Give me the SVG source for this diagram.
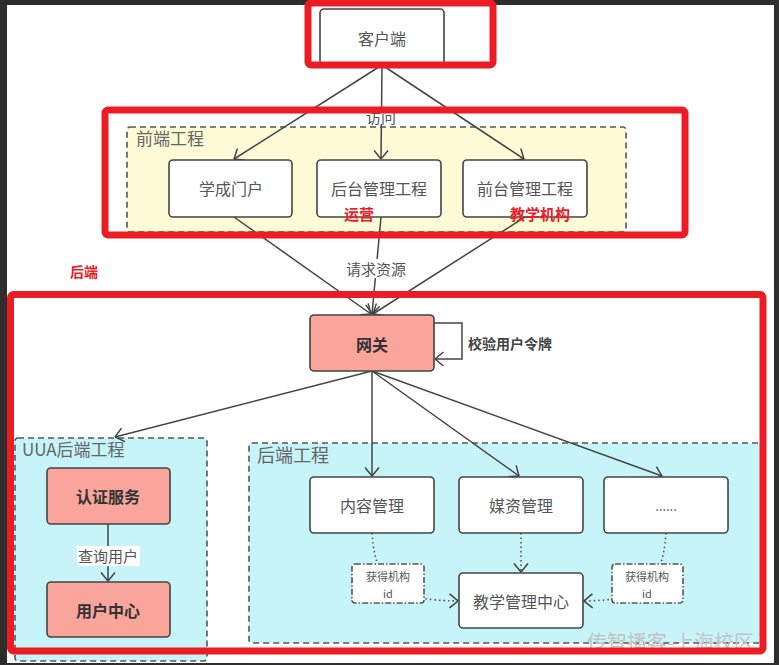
<svg xmlns="http://www.w3.org/2000/svg" width="779" height="665" viewBox="0 0 779 665">
<defs>
<style>
text{font-family:"Noto Sans CJK SC","Noto Sans",sans-serif;}
.node{fill:#ffffff;stroke:#444;stroke-width:1.6;}
.hot{fill:#f9a59b;stroke:#444;stroke-width:1.6;}
.lbl{font-size:16px;fill:#555;text-anchor:middle;dominant-baseline:central;}
.blbl{font-size:16px;fill:#333;font-weight:bold;text-anchor:middle;dominant-baseline:central;}
.title{font-size:17px;fill:#666;}
.edge{fill:none;stroke:#444;stroke-width:1.5;marker-end:url(#arr);}
.dot{fill:none;stroke:#555;stroke-width:1.6;stroke-dasharray:1.5 3;marker-end:url(#arr);}
.cont{stroke:#555;stroke-width:1.6;stroke-dasharray:6 4;}
.red{fill:none;stroke:#ec1c24;stroke-width:7;}
.redt{font-size:15px;fill:#ec1c24;font-weight:bold;text-anchor:middle;dominant-baseline:central;}
.elbl{font-size:15px;fill:#555;text-anchor:middle;dominant-baseline:central;}
.small{font-size:11px;fill:#555;text-anchor:middle;dominant-baseline:central;}
</style>
<marker id="arr" viewBox="0 0 10 16" refX="9.5" refY="8" markerWidth="10" markerHeight="16" markerUnits="userSpaceOnUse" orient="auto">
<path d="M1,1 L9.5,8 L1,15" fill="none" stroke="#444" stroke-width="1.5"/>
</marker>
</defs>
<rect x="0" y="0" width="779" height="665" fill="#2d2d2d"/>
<rect x="7" y="5" width="767" height="658" fill="#ffffff"/>

<g id="containers">
<g id="frontend-group">
<rect class="cont" x="127" y="127" width="499" height="105" rx="3" fill="#fdfad6"/>
<text class="title" x="136" y="145">前端工程</text>
</g>
<g id="uua-group">
<rect class="cont" x="15" y="438" width="192" height="223" rx="3" fill="#c6f4f9"/>
<text class="title" x="22" y="456">UUA后端工程</text>
</g>
<g id="backend-group">
<rect class="cont" x="249" y="443" width="513" height="200" rx="3" fill="#c6f4f9"/>
<text class="title" x="257" y="462" style="font-size:18px">后端工程</text>
</g>
</g>

<g id="connectors">
<path class="edge" d="M382,65 L234,159"/>
<path class="edge" d="M382,65 L381,159"/>
<path class="edge" d="M382,65 L524,159"/>
<path class="edge" d="M234,217 L371,314"/>
<path class="edge" d="M381,217 L372,314"/>
<path class="edge" d="M525,217 L373,314"/>
<path class="edge" d="M434,323 L462,323 L462,359 L435,359"/>
<path class="edge" d="M372,371 L115,437"/>
<path class="edge" d="M372,371 L372,476"/>
<path class="edge" d="M372,371 L519,476"/>
<path class="edge" d="M372,371 L662,476"/>
<path class="edge" d="M108,524 L108,581"/>
<path class="dot" d="M372,533 C376,590 400,600 458,601"/>
<path class="dot" d="M521,533 L521,572"/>
<path class="dot" d="M666,533 C662,590 640,600 584,601"/>
</g>

<g id="edge-labels">
<rect x="362" y="107" width="38" height="17" fill="#ffffff"/>
<text class="elbl" x="381" y="116">访问</text>
<rect x="342" y="259" width="68" height="19" fill="#ffffff"/>
<text class="elbl" x="376" y="268">请求资源</text>
<text x="468" y="343" style="font-size:14px;fill:#444;font-weight:bold;dominant-baseline:central">校验用户令牌</text>
<rect x="77" y="546" width="63" height="20" fill="#ffffff"/>
<text class="elbl" x="108" y="555">查询用户</text>
</g>

<g id="client"><rect class="node" x="320" y="9" width="124" height="56" rx="4"/><text class="lbl" x="382" y="38">客户端</text></g>
<g id="portal"><rect class="node" x="169" y="160" width="123" height="57" rx="4"/><text class="lbl" x="231" y="188">学成门户</text></g>
<g id="admin"><rect class="node" x="317" y="160" width="124" height="57" rx="4"/><text class="lbl" x="379" y="188">后台管理工程</text></g>
<g id="front-admin"><rect class="node" x="463" y="160" width="124" height="57" rx="4"/><text class="lbl" x="525" y="188">前台管理工程</text></g>
<g id="gateway"><rect class="hot" x="310" y="315" width="124" height="56" rx="4"/><text class="blbl" x="372" y="344">网关</text></g>
<g id="auth"><rect class="hot" x="47" y="468" width="123" height="56" rx="4"/><text class="blbl" x="108" y="496">认证服务</text></g>
<g id="usercenter"><rect class="hot" x="47" y="582" width="123" height="55" rx="4"/><text class="blbl" x="108" y="610">用户中心</text></g>
<g id="content"><rect class="node" x="310" y="477" width="124" height="56" rx="4"/><text class="lbl" x="372" y="505">内容管理</text></g>
<g id="media"><rect class="node" x="459" y="477" width="124" height="56" rx="4"/><text class="lbl" x="521" y="505">媒资管理</text></g>
<g id="more"><rect class="node" x="604" y="477" width="124" height="56" rx="4"/><text class="lbl" x="666" y="505" style="font-size:13px">......</text></g>
<g id="teach"><rect class="node" x="459" y="573" width="124" height="55" rx="4"/><text class="lbl" x="521" y="601">教学管理中心</text></g>
<g id="orgid-left"><rect x="352" y="564" width="72" height="39" rx="3" fill="#ffffff" stroke="#555" stroke-width="1.6" stroke-dasharray="6 2 1.5 2"/><text class="small" x="388" y="576">获得机构</text><text class="small" x="388" y="593">id</text></g>
<g id="orgid-right"><rect x="612" y="564" width="71" height="39" rx="3" fill="#ffffff" stroke="#555" stroke-width="1.6" stroke-dasharray="6 2 1.5 2"/><text class="small" x="647" y="576">获得机构</text><text class="small" x="647" y="593">id</text></g>

<text x="587" y="650" style="font-size:20px;fill:#c4c4c4">传智播客-上海校区</text>

<g id="annotations">
<rect class="red" x="308" y="3" width="185" height="62" rx="3"/>
<rect class="red" x="105" y="110" width="580" height="125" rx="3"/>
<rect class="red" x="10.5" y="294.5" width="752.5" height="356.5" rx="3"/>
<text class="redt" x="359" y="213">运营</text>
<text class="redt" x="540" y="213">教学机构</text>
<text class="redt" x="84" y="271" style="font-size:14px">后端</text>
</g>
</svg>
